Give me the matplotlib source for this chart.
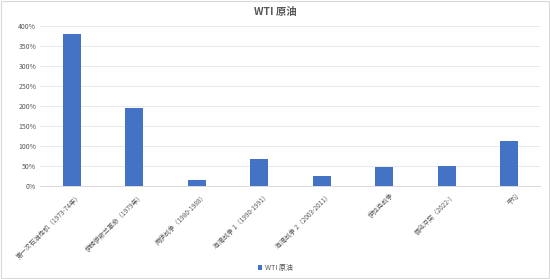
import matplotlib
matplotlib.use("Agg")
import matplotlib.pyplot as plt
import matplotlib.transforms as mtransforms
from matplotlib.ticker import PercentFormatter
from matplotlib.patches import Rectangle

plt.rcParams['font.family'] = ['Noto Sans CJK SC', 'DejaVu Sans']

# data
events = ['第一次石油危机（1973-74年）', '伊朗伊斯兰革命（1979年）', '两伊战争（1980-1988）',
          '海湾战争 1（1990-1991）', '海湾战争 2（2003-2011）', '伊拉克战争',
          '俄乌冲突（2022-）', '平均']
wti = [380, 195, 15, 67, 25, 47, 49, 112]
yticks = [0, 50, 100, 150, 200, 250, 300, 350, 400]

txt = '#595959'
bar_c = '#4472C4'

fig = plt.figure(figsize=(5.5, 2.79), dpi=100)
ax = fig.add_axes([40.4 / 550, 1 - 186 / 279, 500 / 550, 160 / 279])

x = range(len(events))
ax.bar(x, wti, width=0.29, color=bar_c, label='WTI 原油', zorder=3)
ax.set_xlim(-0.5, len(events) - 0.5)
ax.set_ylim(0, 400)
ax.set_yticks(yticks)
ax.yaxis.set_major_formatter(PercentFormatter(decimals=0))
ax.set_xticks(list(x))
ax.set_xticklabels(events, rotation=45, ha='right', rotation_mode='anchor')
ax.tick_params(axis='both', length=0, labelsize=5, labelcolor=txt, pad=3)
ax.tick_params(axis='x', labelsize=4.7, pad=4)
shift = mtransforms.ScaledTranslation(6 / 100, 0, fig.dpi_scale_trans)
for lab in ax.get_xticklabels():
    lab.set_transform(lab.get_transform() + shift)
ax.grid(axis='y', color='#e9e9e9', linewidth=0.7, zorder=0)
for s in ['top', 'right', 'left']:
    ax.spines[s].set_visible(False)
ax.spines['bottom'].set_color('#d9d9d9')
ax.spines['bottom'].set_linewidth(0.7)

fig.text(0.5, 1 - 12 / 279, 'WTI 原油', ha='center', va='center',
         fontsize=7.5, fontweight='bold', color=txt)

leg = fig.legend(loc='center', bbox_to_anchor=(0.5, 1 - 268 / 279), frameon=False,
                 fontsize=5, handlelength=0.6, handleheight=0.6, handletextpad=0.4)
for t in leg.get_texts():
    t.set_color(txt)

fig.patches.append(Rectangle((0.002, 0.004), 0.996, 0.992, transform=fig.transFigure,
                             fill=False, edgecolor='#d9d9d9', linewidth=0.8))

fig.savefig('out.png', dpi=100)
